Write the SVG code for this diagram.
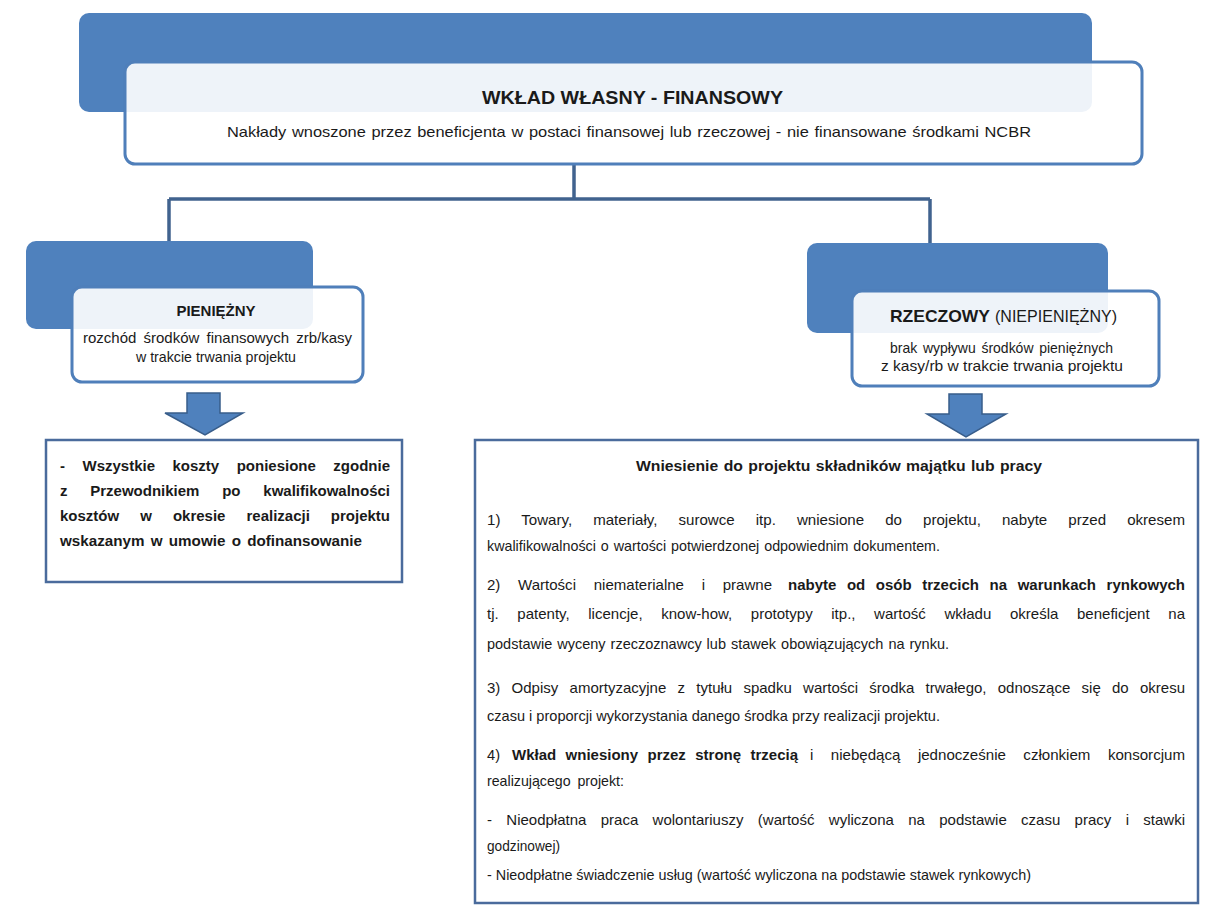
<svg xmlns="http://www.w3.org/2000/svg" width="1205" height="912" viewBox="0 0 1205 912">
<style>
.back{fill:#4F81BD;}
.front{fill:#FFFFFF;fill-opacity:0.9;stroke:#4F7FBA;stroke-width:3;}
.box{fill:#FFFFFF;stroke:#4A6B9C;stroke-width:2.5;}
.conn{fill:none;stroke:#41638F;stroke-width:3.5;}
.arrow{fill:#4F81BD;stroke:#385D8A;stroke-width:1.5;stroke-linejoin:miter;}
text{font-family:"Liberation Sans",Arial,sans-serif;fill:#1A1A1A;}
.t{font-size:18px;font-weight:bold;}
.s{font-size:15px;}
.n{font-size:15px;}
.nb{font-size:15px;font-weight:bold;}
.lb{font-size:15px;font-weight:bold;}
.r{font-size:15px;}
.rb{font-size:15px;font-weight:bold;}
</style>
<rect width="1205" height="912" fill="#FFFFFF"/>
<g id="connectors">
<path class="conn" d="M574,164 V199 M169,199 H930 M169,199 V241 M930,199 V243"/>
<polygon class="arrow" points="187,393 220,393 220,413 243,413 205,435 165,413 187,413"/>
<polygon class="arrow" points="949,394 982,394 982,414 1006,414 966,437 927,414 949,414"/>
</g>
<g id="node-top">
<rect class="back" x="79" y="13" width="1013" height="99" rx="10"/>
<rect class="front" x="125" y="62" width="1017" height="102" rx="10"/>
<text class="t" x="482" y="104" textLength="301" lengthAdjust="spacingAndGlyphs">WKŁAD WŁASNY - FINANSOWY</text>
<text class="s" x="227" y="137" textLength="804" lengthAdjust="spacingAndGlyphs" word-spacing="1">Nakłady wnoszone przez beneficjenta w postaci finansowej lub rzeczowej - nie finansowane środkami NCBR</text>
</g>
<g id="node-pieniezny">
<rect class="back" x="26" y="241" width="287" height="88" rx="10"/>
<rect class="front" x="72" y="287" width="291" height="95" rx="10"/>
<text class="nb" x="216" y="316" text-anchor="middle">PIENIĘŻNY</text>
<text class="n" x="83" y="343" textLength="269" lengthAdjust="spacingAndGlyphs" word-spacing="3">rozchód środków finansowych zrb/kasy</text>
<text class="n" x="136" y="362" textLength="160" lengthAdjust="spacingAndGlyphs">w trakcie trwania projektu</text>
</g>
<g id="node-rzeczowy">
<rect class="back" x="807" y="243" width="301" height="90" rx="10"/>
<rect class="front" x="852" y="291" width="307" height="95" rx="10"/>
<text x="890" y="322" font-size="17" font-weight="bold" textLength="100" lengthAdjust="spacingAndGlyphs">RZECZOWY</text>
<text x="995" y="322" font-size="17" textLength="122" lengthAdjust="spacingAndGlyphs">(NIEPIENIĘŻNY)</text>
<text class="n" x="890" y="353" textLength="223" lengthAdjust="spacingAndGlyphs" word-spacing="2">brak wypływu środków pieniężnych</text>
<text class="n" x="881" y="371" textLength="242" lengthAdjust="spacingAndGlyphs">z kasy/rb w trakcie trwania projektu</text>
</g>
<g id="node-pieniezny-desc">
<rect class="box" x="46" y="440" width="356" height="142"/>
<text class="lb" x="60" y="471" textLength="330" lengthAdjust="spacingAndGlyphs" word-spacing="13.3">- Wszystkie koszty poniesione zgodnie</text>
<text class="lb" x="60" y="496" textLength="330" lengthAdjust="spacingAndGlyphs" word-spacing="18.6">z Przewodnikiem po kwalifikowalności</text>
<text class="lb" x="60" y="521" textLength="330" lengthAdjust="spacingAndGlyphs" word-spacing="16.9">kosztów w okresie realizacji projektu</text>
<text class="lb" x="60" y="546" textLength="302" lengthAdjust="spacingAndGlyphs" word-spacing="2">wskazanym w umowie o dofinansowanie</text>
</g>
<g id="node-rzeczowy-desc">
<rect class="box" x="475" y="440" width="723" height="463"/>
<text class="rb" x="839" y="471" text-anchor="middle" textLength="406" lengthAdjust="spacingAndGlyphs" word-spacing="1">Wniesienie do projektu składników majątku lub pracy</text>
<text class="r" x="487" y="525" textLength="698" lengthAdjust="spacingAndGlyphs" word-spacing="16.8">1) Towary, materiały, surowce itp. wniesione do projektu, nabyte przed okresem</text>
<text class="r" x="487" y="551" textLength="453" lengthAdjust="spacingAndGlyphs" word-spacing="1">kwalifikowalności o wartości potwierdzonej odpowiednim dokumentem.</text>
<text class="r" x="487" y="590" textLength="285" lengthAdjust="spacingAndGlyphs" word-spacing="13.5">2) Wartości niematerialne i prawne</text>
<text class="rb" x="788" y="590" textLength="397" lengthAdjust="spacingAndGlyphs" word-spacing="6.4">nabyte od osób trzecich na warunkach rynkowych</text>
<text class="r" x="487" y="619" textLength="698" lengthAdjust="spacingAndGlyphs" word-spacing="14.4">tj. patenty, licencje, know-how, prototypy itp., wartość wkładu określa beneficjent na</text>
<text class="r" x="487" y="649" textLength="462" lengthAdjust="spacingAndGlyphs" word-spacing="1">podstawie wyceny rzeczoznawcy lub stawek obowiązujących na rynku.</text>
<text class="r" x="487" y="693" textLength="698" lengthAdjust="spacingAndGlyphs" word-spacing="7.1">3) Odpisy amortyzacyjne z tytułu spadku wartości środka trwałego, odnoszące się do okresu</text>
<text class="r" x="487" y="721" textLength="453" lengthAdjust="spacingAndGlyphs">czasu i proporcji wykorzystania danego środka przy realizacji projektu.</text>
<text class="r" x="487" y="760" textLength="13" lengthAdjust="spacingAndGlyphs">4)</text>
<text class="rb" x="512" y="760" textLength="286" lengthAdjust="spacingAndGlyphs" word-spacing="5.2">Wkład wniesiony przez stronę trzecią</text>
<text class="r" x="810" y="760" textLength="375" lengthAdjust="spacingAndGlyphs" word-spacing="13.2">i niebędącą jednocześnie członkiem konsorcjum</text>
<text class="r" x="487" y="786" textLength="137" lengthAdjust="spacingAndGlyphs" word-spacing="3">realizującego projekt:</text>
<text class="r" x="487" y="825" textLength="698" lengthAdjust="spacingAndGlyphs" word-spacing="10.2">- Nieodpłatna praca wolontariuszy (wartość wyliczona na podstawie czasu pracy i stawki</text>
<text class="r" x="487" y="851" textLength="73" lengthAdjust="spacingAndGlyphs">godzinowej)</text>
<text class="r" x="487" y="880" textLength="544" lengthAdjust="spacingAndGlyphs">- Nieodpłatne świadczenie usług (wartość wyliczona na podstawie stawek rynkowych)</text>
</g>
</svg>
